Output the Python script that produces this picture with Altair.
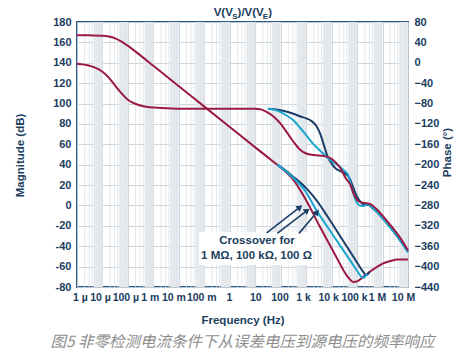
import altair as alt
import pandas as pd

# ---------------- data ----------------
FREQ_LABELS = ["1 µ", "10 µ", "100 µ", "1 m", "10 m", "100 m", "1", "10", "100",
               "1 k", "10 k", "100 k", "1 M", "10 M"]
DECADES = list(range(-6, 8))
MAG_TICKS = list(range(-80, 181, 20))
PHASE_TICKS = list(range(-440, 81, 40))

# magnitude (dB) vs log10(f)
mag_1M_logf = [-6, -5.5, -5.0, -4.75, -4.5, -4.25, -4.0, -3.5, -3.0, -2.0, -1.0, 0.0, 1.0, 1.86,
               2.0, 2.5, 3.0, 3.5, 4.0, 4.3, 4.5, 4.7, 4.85, 5.0, 5.2, 5.5, 5.8, 6.0, 6.3, 6.6, 7.0]
mag_1M_db = [167, 166.9, 166.6, 165.8, 164, 160.8, 156.6, 147, 137, 117, 97, 77, 57, 40,
             37.2, 25, 5, -19, -42, -56, -65, -72, -75, -74.5, -71, -65, -60, -57, -54.5, -53, -53]

mag_100k_logf = [1.86, 2.0, 2.5, 3.0, 3.35, 3.5, 4.0, 4.5, 5.0, 5.15, 5.25, 5.4]
mag_100k_db = [40, 37.5, 27, 13, -2.5, -8.5, -27, -45.5, -64, -69.5, -71, -67]

mag_100_logf = [1.86, 2.0, 2.5, 3.0, 3.3, 3.54, 3.75, 4.0, 4.5, 5.0, 5.25, 5.35, 5.5]
mag_100_db = [40, 37.8, 28, 17, 8.5, 0.5, -7.5, -17, -36.5, -56, -65.5, -68.5, -65]

# phase (deg) vs log10(f)
ph_1M_logf = [-6, -5.5, -5.0, -4.75, -4.5, -4.25, -4.0, -3.5, -3.0, -2.0, 1.0, 1.25, 1.5, 1.75,
              2.0, 2.25, 2.5, 2.75, 3.0, 3.3, 3.7, 3.95, 4.15, 4.35, 4.55, 4.72, 4.92, 5.1, 5.3,
              5.5, 5.63, 5.8, 6.0, 6.3, 6.7, 7.0]
ph_1M_deg = [-2, -6, -17.5, -29, -45, -60, -72.5, -84, -88, -90, -90, -92, -98, -107,
             -120, -137, -155, -170, -178, -181, -183, -187, -195, -207, -226, -238, -263, -273, -275,
             -277, -281, -289, -300, -318, -344, -368]

ph_100k_logf = [1.5, 1.75, 2.0, 2.25, 2.5, 2.75, 3.0, 3.25, 3.5, 3.75, 4.0, 4.25, 4.5, 4.65, 4.8,
                4.95, 5.1, 5.25, 5.4, 5.55, 5.8, 6.0, 6.3, 6.7, 7.0]
ph_100k_deg = [-90, -92, -97, -104, -113, -127, -142, -158, -170, -182, -193, -201, -212, -220, -248,
               -270, -280, -281, -278, -282, -294, -305, -323, -349, -372]

ph_100_logf = [1.5, 1.75, 2.0, 2.25, 2.5, 2.75, 3.0, 3.2, 3.4, 3.55, 3.7, 3.85, 4.0, 4.15, 4.4, 4.55,
               4.7, 4.85, 5.0, 5.15, 5.3, 5.45, 5.6, 5.8, 6.0, 6.3, 6.7, 7.0]
ph_100_deg = [-90, -91, -93, -96, -100, -105, -109, -114, -124, -139, -162, -185, -198, -207, -214, -218,
              -226, -245, -263, -274, -279, -279, -285, -294, -305, -323, -349, -371]

# annotation: crossover arrows (log10 f, dB)
arrow_tail_logf = [1.451, 1.867, 2.72]
arrow_tail_db = [-26.8, -27.4, -27.4]
arrow_head_logf = [2.755, 3.042, 3.427]
arrow_head_db = [-1.6, -4.9, -6.5]
arrow_angle = [52.5, 52.6, 40.2]
note_lines = ["Crossover for", "1 MΩ, 100 kΩ, 100 Ω"]
note_logf = [1.07, 1.05]
note_db = [-35.0, -49.6]
box_logf = [-1.21, 3.19]
box_db = [-26.0, -58.5]

CAPTION = "图5 非零检测电流条件下从误差电压到源电压的频率响应"

# ---------------- style ----------------
C_CRIMSON = "#9b1a45"
C_CYAN = "#1aa6cf"
C_NAVY = "#1c3e66"
AXIS_COL = "#2c5a80"
TEXT_COL = "#1b3d5e"
GRID_COL = "#c9d1d8"
MINOR_COL = "#dce2e7"
BAND_COL = "#ebeef2"
FONT = "Liberation Sans"
# horizontal nudges (px) of the frequency labels, as placed in the original figure
LABEL_NUDGE = [3, -2.5, -2.5, -3.5, -5.5, -3, -0.8, 0, -1.2, -3, -3.5, -3, -5.5, -5]

W, H = 331, 265


def curve(logf, vals):
    return pd.DataFrame({"f": [10.0 ** v for v in logf], "v": vals})


label_expr = "[" + ",".join("'" + s + "'" for s in FREQ_LABELS) + "][round(log(datum.value)/LN10)+6]"
label_offset = {
    "condition": [
        {"test": "round(log(datum.value)/LN10) == %d" % d, "value": n}
        for d, n in zip(DECADES, LABEL_NUDGE) if n != 0
    ],
    "value": 0,
}

x_scale = alt.Scale(type="log", domain=[1e-6, 1e7], nice=False)
x_axis = alt.Axis(values=[10.0 ** d for d in DECADES], labelExpr=label_expr, grid=True,
                  gridColor=GRID_COL, gridWidth=0.9, title="Frequency (Hz)",
                  labelOverlap=False, labelFlush=False, labelPadding=5, labelFontSize=10.5,
                  labelOffset=label_offset,
                  titleY=33, titleBaseline="middle")


def xenc(field):
    return alt.X(field, type="quantitative", scale=x_scale, axis=x_axis)


mag_scale = alt.Scale(domain=[-80, 180], nice=False, zero=False)
mag_axis = alt.Axis(orient="left", values=MAG_TICKS, grid=True, gridColor=GRID_COL, gridWidth=0.9,
                    title="Magnitude (dB)", labelExpr="replace(datum.label, '−', '-')",
                    titleAngle=270, titleX=-57, titleY=133, titleBaseline="middle", labelPadding=6)


def ymag(field):
    return alt.Y(field, type="quantitative", scale=mag_scale, axis=mag_axis)


ph_scale = alt.Scale(domain=[-440, 80], nice=False, zero=False)
ph_axis = alt.Axis(orient="right", values=PHASE_TICKS, grid=False, title="Phase (°)",
                   labelExpr="replace(datum.label, '-', '−')",
                   titleAngle=270, titleX=39, titleY=130, titleBaseline="middle", labelPadding=6)


def yph(field):
    return alt.Y(field, type="quantitative", scale=ph_scale, axis=ph_axis)


# background bands and minor grid
band_df = pd.DataFrame({"f": [4.5 * 10.0 ** d for d in DECADES[:-1]],
                        "f2": [10.0 ** (d + 1) for d in DECADES[:-1]]})
bands = alt.Chart(band_df).mark_rect(color=BAND_COL).encode(x=xenc("f"), x2="f2:Q")

minor_df = pd.DataFrame({"f": [k * 10.0 ** d for d in DECADES[:-1] for k in range(2, 10)]})
minor = alt.Chart(minor_df).mark_rule(color=MINOR_COL, strokeWidth=0.8).encode(x=xenc("f"))

# text box + arrows
box_df = pd.DataFrame({"f": [10.0 ** box_logf[0]], "f2": [10.0 ** box_logf[1]],
                       "y": [box_db[0]], "y2": [box_db[1]]})
box = alt.Chart(box_df).mark_rect(color="white").encode(
    x=xenc("f"), x2="f2:Q", y=ymag("y"), y2="y2:Q")

arr_df = pd.DataFrame({"f": [10.0 ** v for v in arrow_tail_logf], "y": arrow_tail_db,
                       "f2": [10.0 ** v for v in arrow_head_logf], "y2": arrow_head_db,
                       "ang": arrow_angle})
shafts = alt.Chart(arr_df).mark_rule(color=C_NAVY, strokeWidth=1.6).encode(
    x=xenc("f"), x2="f2:Q", y=ymag("y"), y2="y2:Q")
heads = alt.Chart(arr_df).mark_point(shape="triangle-up", filled=True, size=48, color=C_NAVY,
                                     opacity=1).encode(
    x=xenc("f2"), y=ymag("y2"), angle=alt.Angle("ang:Q", scale=None))

note_df = pd.DataFrame({"f": [10.0 ** v for v in note_logf], "y": note_db, "t": note_lines})
notes = alt.Chart(note_df).mark_text(font=FONT, fontWeight="bold", fontSize=11.5,
                                     color=TEXT_COL).encode(
    x=xenc("f"), y=ymag("y"), text="t:N")


def mag_line(logf, vals, color):
    return alt.Chart(curve(logf, vals)).mark_line(color=color, strokeWidth=2,
                                                  interpolate="monotone").encode(
        x=xenc("f"), y=ymag("v"))


def ph_line(logf, vals, color):
    return alt.Chart(curve(logf, vals)).mark_line(color=color, strokeWidth=2,
                                                  interpolate="monotone").encode(
        x=xenc("f"), y=yph("v"))


# title with subscripts and caption
dummy = pd.DataFrame({"a": [0]})
title_parts = [("V(V", 136.7, -6, 11.5), ("S", 155.2, -3.5, 8), (")/V(V", 160.6, -6, 11.5),
               ("E", 185.8, -3.5, 8), (")", 191.2, -6, 11.5)]
title_layers = [
    alt.Chart(dummy).mark_text(font=FONT, fontWeight="bold", fontSize=fs, color=TEXT_COL,
                               align="left", baseline="alphabetic").encode(
        x=alt.value(px), y=alt.value(py), text=alt.value(t))
    for t, px, py, fs in title_parts
]
caption = alt.Chart(dummy).mark_text(font="Noto Sans CJK SC", fontStyle="italic", fontSize=15.5,
                                     color="#8e8e8e", align="center", baseline="middle").encode(
    x=alt.value(165.5), y=alt.value(320), text=alt.value(CAPTION))

mag_group = alt.layer(
    bands, minor,
    mag_line(mag_1M_logf, mag_1M_db, C_CRIMSON),
    mag_line(mag_100_logf, mag_100_db, C_NAVY),
    mag_line(mag_100k_logf, mag_100k_db, C_CYAN),
    box, shafts, heads, notes,
    *title_layers, caption,
)

phase_group = alt.layer(
    ph_line(ph_100_logf, ph_100_deg, C_NAVY),
    ph_line(ph_100k_logf, ph_100k_deg, C_CYAN),
    ph_line(ph_1M_logf, ph_1M_deg, C_CRIMSON),
)

chart = alt.layer(mag_group, phase_group).resolve_scale(y="independent").properties(
    width=W, height=H,
    padding={"left": 77, "top": 22, "right": 49, "bottom": 70},
    autosize=alt.AutoSizeParams(type="none"),
    background="white",
).configure_view(
    stroke=AXIS_COL, strokeWidth=2
).configure_axis(
    domain=False, ticks=False,
    labelFont=FONT, labelFontWeight="bold", labelFontSize=11, labelColor=TEXT_COL,
    titleFont=FONT, titleFontWeight="bold", titleFontSize=11.5, titleColor=TEXT_COL,
)

chart.save("out.html", embed_options={"renderer": "svg", "actions": False})
